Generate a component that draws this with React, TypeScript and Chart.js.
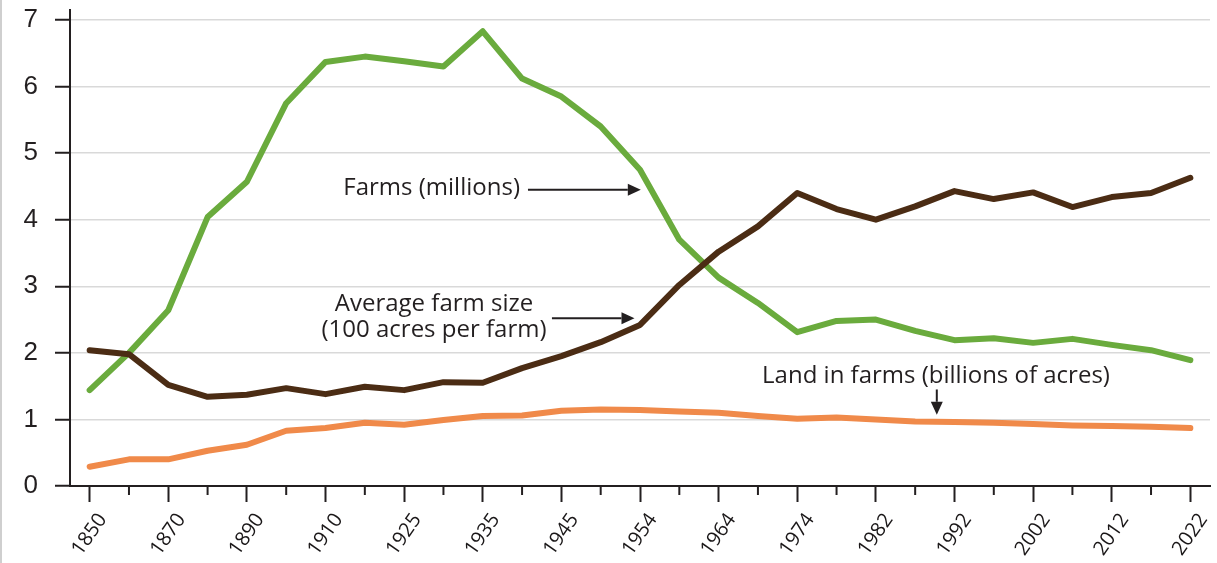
import { useEffect, useRef } from "react";
import { Chart, registerables } from "chart.js";

Chart.register(...registerables);

const years = [
  "1850", "1860", "1870", "1880", "1890", "1900", "1910", "1920", "1925", "1930",
  "1935", "1940", "1945", "1950", "1954", "1959", "1964", "1969", "1974", "1978",
  "1982", "1987", "1992", "1997", "2002", "2007", "2012", "2017", "2022",
];

const labeledYears = [
  "1850", "1870", "1890", "1910", "1925", "1935", "1945", "1954", "1964", "1974",
  "1982", "1992", "2002", "2012", "2022",
];

const farmsMillions = [
  1.44, 2.0, 2.64, 4.04, 4.57, 5.75, 6.37, 6.45, 6.38, 6.3,
  6.83, 6.12, 5.85, 5.4, 4.75, 3.7, 3.13, 2.75, 2.31, 2.48,
  2.5, 2.33, 2.19, 2.22, 2.15, 2.21, 2.12, 2.04, 1.89,
];

const avgFarmSize = [
  2.04, 1.98, 1.52, 1.34, 1.37, 1.47, 1.38, 1.49, 1.44, 1.56,
  1.55, 1.77, 1.95, 2.16, 2.42, 3.02, 3.52, 3.9, 4.4, 4.16,
  4.0, 4.2, 4.43, 4.31, 4.41, 4.19, 4.34, 4.4, 4.63,
];

const landInFarms = [
  0.29, 0.4, 0.4, 0.53, 0.62, 0.83, 0.87, 0.95, 0.92, 0.99,
  1.05, 1.06, 1.13, 1.15, 1.14, 1.12, 1.1, 1.05, 1.01, 1.03,
  1.0, 0.97, 0.96, 0.95, 0.93, 0.91, 0.9, 0.89, 0.87,
];

const yTickValues = [0, 1, 2, 3, 4, 5, 6, 7];

// annotation texts (positions in data coordinates: category index, value)
const annotations = [
  { lines: ["Farms (millions)"], x: 8.7, y: 4.48, arrow: { x1: 11.15, y1: 4.45, x2: 14.02, y2: 4.45 } },
  {
    lines: ["Average farm size", "(100 acres per farm)"],
    x: 8.76,
    y: 2.53,
    arrow: { x1: 11.76, y1: 2.52, x2: 13.86, y2: 2.52 },
  },
  { lines: ["Land in farms (billions of acres)"], x: 21.53, y: 1.65, arrow: { x1: 21.55, y1: 1.45, x2: 21.55, y2: 1.07 } },
];

const INK = "#231f20";
const ANNOT_FONT = '24px "Open Sans", sans-serif';

const annotationPlugin = {
  id: "annot",
  beforeDraw(chart: any) {
    const ctx = chart.ctx;
    ctx.save();
    ctx.fillStyle = "#cfcfcf";
    ctx.fillRect(0, 0, 2, chart.height);
    ctx.restore();
  },
  afterDraw(chart: any) {
    const ctx = chart.ctx;
    const xs = chart.scales.x;
    const ys = chart.scales.y;
    ctx.save();
    // minor ticks on x axis
    ctx.strokeStyle = INK;
    ctx.lineWidth = 2;
    const bottom = chart.chartArea.bottom;
    years.forEach((y, i) => {
      if (labeledYears.includes(y)) return;
      const px = xs.getPixelForValue(i);
      ctx.beginPath();
      ctx.moveTo(px, bottom);
      ctx.lineTo(px, bottom + 9);
      ctx.stroke();
    });
    // annotations
    ctx.font = ANNOT_FONT;
    ctx.fillStyle = INK;
    ctx.textAlign = "center";
    ctx.textBaseline = "middle";
    for (const a of annotations) {
      const cx = xs.getPixelForValue(a.x);
      const cy = ys.getPixelForValue(a.y);
      const lh = 26;
      const n = a.lines.length;
      a.lines.forEach((t, k) => {
        ctx.fillText(t, cx, cy + (k - (n - 1) / 2) * lh);
      });
      const x1 = xs.getPixelForValue(a.arrow.x1);
      const y1 = ys.getPixelForValue(a.arrow.y1);
      const x2 = xs.getPixelForValue(a.arrow.x2);
      const y2 = ys.getPixelForValue(a.arrow.y2);
      const ang = Math.atan2(y2 - y1, x2 - x1);
      const head = 13;
      const hw = 6;
      const bx = x2 - head * Math.cos(ang);
      const by = y2 - head * Math.sin(ang);
      ctx.beginPath();
      ctx.moveTo(x1, y1);
      ctx.lineTo(bx, by);
      ctx.lineWidth = 2;
      ctx.stroke();
      ctx.beginPath();
      ctx.moveTo(x2, y2);
      ctx.lineTo(bx + hw * Math.sin(ang), by - hw * Math.cos(ang));
      ctx.lineTo(bx - hw * Math.sin(ang), by + hw * Math.cos(ang));
      ctx.closePath();
      ctx.fill();
    }
    ctx.restore();
  },
};

export default function App() {
  const ref = useRef<HTMLCanvasElement | null>(null);
  useEffect(() => {
    document.body.style.margin = "0";
    const canvas = ref.current;
    if (!canvas) return;
    const chart = new Chart(canvas, {
      type: "line",
      data: {
        labels: years,
        datasets: [
          {
            label: "Average farm size (100 acres per farm)",
            data: avgFarmSize,
            borderColor: "#4b2c14",
            borderWidth: 6,
            pointRadius: 0,
            borderJoinStyle: "round",
            borderCapStyle: "round",
            tension: 0,
          },
          {
            label: "Farms (millions)",
            data: farmsMillions,
            borderColor: "#6aab3d",
            borderWidth: 6,
            pointRadius: 0,
            borderJoinStyle: "round",
            borderCapStyle: "round",
            tension: 0,
          },
          {
            label: "Land in farms (billions of acres)",
            data: landInFarms,
            borderColor: "#f08a4a",
            borderWidth: 6,
            pointRadius: 0,
            borderJoinStyle: "round",
            borderCapStyle: "round",
            tension: 0,
          },
        ],
      },
      options: {
        animation: false,
        responsive: false,
        maintainAspectRatio: false,
        devicePixelRatio: 1,
        layout: { padding: { top: 10, right: 7, left: 0, bottom: 0 }, autoPadding: false },
        plugins: { legend: { display: false }, tooltip: { enabled: false } },
        scales: {
          x: {
            type: "category",
            offset: true,
            border: { display: true, color: INK, width: 2 },
            grid: {
              display: true,
              offset: false,
              drawOnChartArea: false,
              drawTicks: true,
              tickLength: 16,
              tickWidth: 2,
              tickColor: (c: any) => (labeledYears.includes(years[c.index]) ? INK : "rgba(0,0,0,0)"),
            },
            ticks: {
              autoSkip: false,
              minRotation: 55,
              maxRotation: 55,
              padding: 7,
              labelOffset: 13,
              color: "#1a1718",
              font: { family: '"Open Sans", sans-serif', size: 20, weight: "500" },
              callback: (_v: any, i: number) => (labeledYears.includes(years[i]) ? years[i] : ""),
            },
            afterFit: (s: any) => {
              s.height = 77;
              s.paddingLeft = 0;
              s.paddingRight = 0;
            },
          },
          y: {
            min: 0,
            max: 7.15,
            border: { display: true, color: INK, width: 2 },
            grid: {
              color: "#d9d9d9",
              lineWidth: 1.5,
              tickColor: INK,
              tickLength: 15,
              tickWidth: 2,
            },
            afterBuildTicks: (s: any) => {
              s.ticks = yTickValues.map((v) => ({ value: v }));
            },
            ticks: {
              stepSize: 1,
              includeBounds: false,
              padding: 17,
              color: INK,
              font: { family: '"Liberation Sans", Arial, sans-serif', size: 26 },
            },
            afterFit: (s: any) => {
              s.width = 70;
              s.paddingTop = 0;
              s.paddingBottom = 0;
            },
          },
        },
      },
      plugins: [annotationPlugin],
    });
    return () => chart.destroy();
  }, []);
  return (
    <div style={{ width: 1217, height: 563, position: "relative", background: "#fff" }}>
      <canvas ref={ref} width={1217} height={563} style={{ display: "block", width: 1217, height: 563 }} />
    </div>
  );
}
